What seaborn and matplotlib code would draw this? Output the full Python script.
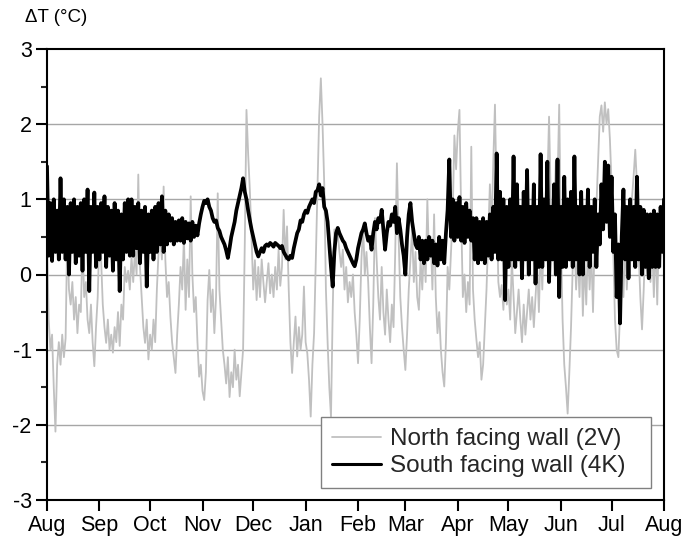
import numpy as np
import pandas as pd
import matplotlib
matplotlib.use("Agg")
import matplotlib.pyplot as plt
import matplotlib.dates as mdates
from matplotlib.ticker import MultipleLocator
import seaborn as sns

# Daily temperature difference (°C), one value per day from 1 Aug to 1 Aug
start_date = "2005-08-01"

north_2v = [
    0.5, -0.6, -1.0, -0.8, -1.5, -2.09, -1.2, -0.9, -1.2, -0.8,
    -1.1, -0.85, 0.55, -0.2, -0.4, -0.1, -0.6, -0.3, -0.78, -0.4,
    -0.5, 0.42, -0.3, -0.1, -0.6, -0.78, -0.4, -0.9, -1.22, -0.7,
    -0.3, 0.55, 0.2, -0.4, -0.7, -0.91, -0.6, -1.0, -0.8, -1.04,
    -0.7, -0.9, -0.5, -0.95, -0.4, -0.6, 0.1, -0.1, 0.05, -0.2,
    0.24, -0.1, 0.3, 0.0, 1.33, 0.1, -0.3, -0.7, -0.91, -0.6,
    -1.13, -0.8, -1.0, -0.6, -0.9, -0.2, 0.3, 0.5, 0.2, 1.17,
    0.2, -0.3, -0.1, -0.56, -0.9, -1.1, -1.31, -0.8, -0.4, 0.1,
    -0.2, 0.5, -0.47, 0.2, -0.3, 1.04, 0.0, -0.5, -0.3, -0.9,
    -1.36, -1.2, -1.55, -1.67, -1.3, -0.34, 0.06, -0.5, -0.2, -0.78,
    -0.3, 1.08, -0.2, -0.6, -1.0, -1.2, -1.45, -1.1, -1.63, -1.3,
    -1.5, -1.0, -1.4, -1.2, -1.62, -1.3, -1.0, 0.4, 2.19, 1.6,
    1.12, 0.5, -0.2, 0.19, -0.34, 0.1, -0.3, 0.2, -0.1, -0.37,
    -0.1, 0.15, -0.25, 0.0, -0.3, 0.1, -0.2, 0.33, -0.15, 0.1,
    0.86, 0.2, 0.64, -0.2, -0.9, -1.31, -0.9, -0.56, -1.09, -0.7,
    -1.0, -0.8, -0.16, -0.9, -1.05, -1.4, -1.89, -1.2, -0.78, 0.2,
    1.2, 2.1, 2.61, 2.0, 1.21, -0.2, -0.9, -1.5, -1.89, -0.5,
    0.6, 0.42, 0.55, 0.3, 0.1, 0.33, -0.2, 0.1, -0.37, -0.1,
    -0.3, 0.0, -0.5, -0.8, -1.18, -0.6, 0.2, 0.64, 0.0, 0.3,
    -0.1, -0.7, -1.18, -0.4, 0.75, 0.2, -0.3, -0.6, 0.1, -0.5,
    -0.8, -0.2, -0.6, -0.9, -0.4, -0.7, 0.3, 1.48, 0.5, -0.3,
    -0.7, -1.0, -1.27, -0.8, -0.2, 0.2, 0.6, -0.1, 0.3, -0.3,
    -0.47, 0.2, -0.2, 0.4, -0.1, 1.0, 0.2, 0.5, -0.2, 0.8,
    -0.3, -0.78, -0.5, -1.0, -1.3, -1.49, -0.9, 0.1, -0.2, 0.3,
    0.8, 1.85, 1.4, 1.9, 2.19, 0.8, -0.3, 0.0, -0.5, -0.1,
    -0.4, 1.7, -0.2, -0.6, -0.86, -1.1, -0.9, -1.4, -1.2, -0.7,
    -0.2, 0.5, 1.2, 0.6, 1.5, 2.26, 1.0, -0.1, -0.3, -0.14,
    -0.47, 0.0, -0.4, -0.2, -0.6, 0.2, -0.3, -0.78, -0.5, -0.2,
    -0.6, -0.9, -0.4, -0.8, -0.5, -0.2, -0.6, -0.3, -0.7, -0.3,
    0.1, -0.5, 0.4, -0.2, 0.6, 0.2, 1.2, 2.1, 1.0, 0.2,
    0.8, 1.5, 1.2, 2.26, 0.5, -0.6, -1.2, -1.5, -1.85, -1.3,
    -0.7, 0.1, 0.5, -0.2, 0.3, -0.3, 0.5, -0.55, 0.2, -0.4,
    0.4, -0.2, 0.3, -0.5, 0.5, 0.9, 1.5, 2.1, 2.25, 1.9,
    2.29, 2.0, 2.2, 1.8, 1.2, 0.3, -0.6, -1.0, -1.1, -0.5,
    0.2, -0.3, 0.5, -0.2, 0.3, 0.6, 1.0, 1.3, 1.66, 1.2,
    0.3, -0.3, -0.73, -0.2, 0.5, 0.0, 0.6, -0.1, 0.4, -0.3,
    0.5, -0.4, 0.6, 0.1, 0.5, 0.3,
]

south_4k = [
    # Aug - early Oct: strong daily swing
    1.44, 0.25, 0.95, 0.18, 1.0, 0.3, 0.85, 0.2, 1.28, 0.3,
    1.0, 0.2, 0.9, 0.0, 0.95, 0.3, 1.0, 0.15, 0.9, 0.25,
    0.95, 0.05, 1.0, 0.3, 1.13, -0.22, 0.9, 0.3, 1.09, 0.1,
    0.9, 0.2, 0.95, 0.3, 1.04, 0.1, 0.9, 0.25, 0.85, 0.05,
    0.95, 0.2, 0.85, -0.22, 0.8, 0.2, 0.95, 0.3, 1.0, 0.25,
    1.0, 0.25, 0.9, 0.35, 0.95, 0.15, 0.85, 0.3, 0.9, -0.16,
    0.8, 0.3, 0.85, 0.2, 0.9, 0.3, 0.95, 0.4, 1.04, 0.3,
    # mid Oct: swing fades
    0.85, 0.4, 0.8, 0.45, 0.75, 0.4, 0.7, 0.45, 0.72, 0.45,
    0.75, 0.42, 0.7, 0.48, 0.68, 0.45, 0.7, 0.5, 0.65, 0.52,
    # Nov - Mar: slow drift
    0.68, 0.8, 0.9, 0.98, 0.95, 1.0, 0.9, 0.85, 0.75, 0.7,
    0.72, 0.62, 0.58, 0.5, 0.45, 0.4, 0.32, 0.22, 0.35, 0.5,
    0.6, 0.7, 0.85, 0.95, 1.05, 1.15, 1.28, 1.1, 1.0, 0.85,
    0.72, 0.6, 0.5, 0.4, 0.3, 0.24, 0.3, 0.35, 0.3, 0.38,
    0.4, 0.38, 0.42, 0.4, 0.37, 0.42, 0.4, 0.38, 0.35, 0.38,
    0.3, 0.26, 0.22,
    0.2, 0.25, 0.22, 0.35, 0.45, 0.55, 0.6, 0.72, 0.7, 0.8,
    0.85, 0.82, 0.9, 0.95, 1.0, 0.95, 1.1,
    1.12, 1.2, 1.05, 1.15, 0.9, 0.85, 0.7, 0.4, 0.1, -0.16,
    0.3, 0.55, 0.62, 0.55, 0.5, 0.45, 0.42, 0.35, 0.3, 0.25,
    0.2, 0.15, 0.11, 0.2, 0.35, 0.45, 0.55, 0.6, 0.68, 0.55,
    0.45, 0.5, 0.33, 0.55, 0.7, 0.6, 0.75, 0.7, 0.86, 0.6,
    0.33, 0.55, 0.7, 0.65, 0.8, 0.7, 0.9, 0.55, 0.75, 0.6,
    0.4, 0.25,
    0.0, 0.5, 0.8, 0.95, 0.7, 0.55, 0.4, 0.35,
    # late Mar: small swing
    0.5, 0.2, 0.45, 0.15, 0.45, 0.2, 0.5, 0.25, 0.45, 0.15,
    0.4, 0.12, 0.5, 0.2, 0.45, 0.15, 0.55, 0.86,
    # Apr - Jul: strong daily swing
    1.53,
    0.5, 1.0, 0.45, 0.95, 0.5, 1.03, 0.45, 0.9, 0.42, 0.95,
    0.5, 0.85, 0.45,
    0.75, 0.2, 0.75, 0.15, 0.7, 0.2, 0.75, 0.15, 0.7, 0.25,
    0.8, 0.2, 0.9,
    0.3, 1.61, 0.2, 1.1, 0.2, 1.0, -0.34, 0.9, 0.1, 1.0,
    0.2, 1.57, 0.1, 1.2, 0.2, 0.9, -0.05, 1.1, 0.2, 1.39,
    0.0, 0.9, 0.2, 1.2, -0.12,
    0.9, 0.1, 1.6, 0.1, 1.0, 0.2, 1.5, -0.1, 0.9, 0.2,
    1.2, 0.0, 1.53, -0.3, 0.9, 0.1, 1.3, 0.1, 1.0, 0.2,
    1.1, 0.1, 1.57, 0.2, 0.9,
    0.0, 1.1, 0.0, 0.9, 0.2, 1.13, 0.1, 0.9, 0.3, 1.0,
    0.1, 0.8,
    0.4, 1.2, 0.6, 1.5, 0.7, 1.45, 0.5, 1.3,
    0.3, 0.8, -0.3, 0.4, -0.65, 0.5,
    1.13, 0.2, 0.9, -0.05, 1.0, 0.2, 0.9, 0.1, 1.3, 0.2,
    0.9, 0.0, 0.86,
    0.1, 0.8, -0.05, 0.8, 0.1, 0.85, 0.1, 0.8, 0.1, 0.9,
    0.3, 1.0,
]

series_names = ["North facing wall (2V)", "South facing wall (4K)"]
y_ticks = [-3, -2, -1, 0, 1, 2, 3]

north_df = pd.DataFrame({
    "date": pd.date_range(start_date, periods=len(north_2v), freq="D"),
    "dT": north_2v,
})
south_df = pd.DataFrame({
    "date": pd.date_range(start_date, periods=len(south_4k), freq="D"),
    "dT": south_4k,
})

sns.set_theme(style="ticks")
plt.rcParams["font.family"] = ["Liberation Sans", "DejaVu Sans"]
plt.rcParams["axes.unicode_minus"] = False

fig = plt.figure(figsize=(6.86, 5.43), dpi=100)
ax = fig.add_axes([47 / 686, 1 - 500 / 543, 617 / 686, 451 / 543])

for y in y_ticks[1:-1]:
    ax.axhline(y, color="#a6a6a6", lw=1.0, zorder=0)

sns.lineplot(data=north_df, x="date", y="dT", ax=ax, color="#c0c0c0",
             lw=1.3, label=series_names[0], zorder=2)
sns.lineplot(data=south_df, x="date", y="dT", ax=ax, color="black",
             lw=2.7, label=series_names[1], zorder=3)

ax.set_xlim(pd.Timestamp("2005-08-01"), pd.Timestamp("2006-08-01"))
ax.set_ylim(-3, 3)
ax.set_yticks(y_ticks)
ax.yaxis.set_minor_locator(MultipleLocator(0.5))
ax.xaxis.set_major_locator(mdates.MonthLocator())
ax.xaxis.set_major_formatter(mdates.DateFormatter("%b"))
ax.set_xlabel("")
ax.set_ylabel("")

ax.tick_params(axis="both", which="major", direction="out", length=8,
               width=1.5, labelsize=15.5, colors="black", pad=3)
ax.tick_params(axis="y", which="minor", direction="out", length=4,
               width=1.5, left=True)
ax.tick_params(axis="x", which="minor", bottom=False)
for side in ["left", "right", "top", "bottom"]:
    ax.spines[side].set_visible(True)
    ax.spines[side].set_color("black")
    ax.spines[side].set_linewidth(1.5)

# legend box spanning a fixed width in the lower right corner
leg = ax.legend(loc="lower left",
                bbox_to_anchor=((321 - 47) / 617, 12 / 451, 330 / 617, 71 / 451),
                mode="expand", borderaxespad=0, frameon=True, fancybox=False,
                fontsize=17.5, handlelength=2.0, handletextpad=0.4,
                borderpad=0.45, labelspacing=0.2)
frame = leg.get_frame()
frame.set_edgecolor("#808080")
frame.set_linewidth(1.0)
frame.set_alpha(1.0)
leg.get_lines()[0].set_linewidth(1.3)
leg.get_lines()[1].set_linewidth(2.2)

fig.text(25 / 686, 1 - 18 / 543, "ΔT (°C)", fontsize=13.5, ha="left",
         va="center", color="black")

fig.savefig("out.png", dpi=100)
